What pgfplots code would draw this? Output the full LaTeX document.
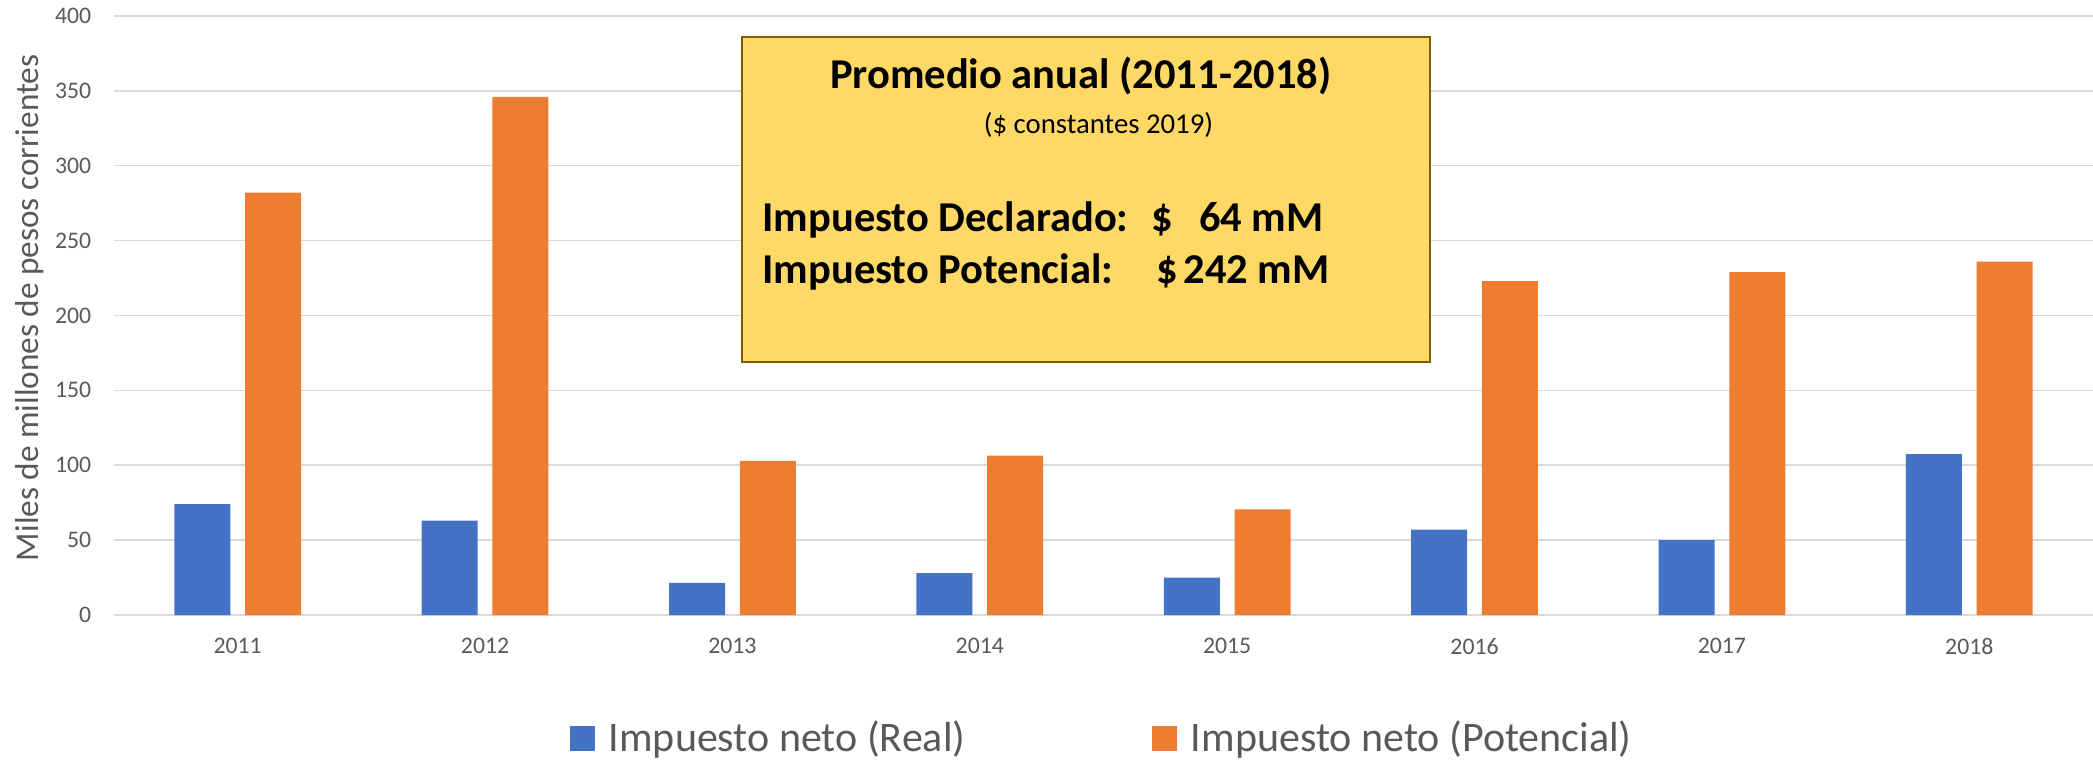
\documentclass[border=0pt]{standalone}
\usepackage{fontspec}
\setmainfont{Carlito}
\usepackage{pgfplots}
\pgfplotsset{compat=1.18}
\definecolor{cblue}{HTML}{4472C4}
\definecolor{corange}{HTML}{ED7D31}
\definecolor{cgrid}{HTML}{D9D9D9}
\definecolor{ctext}{HTML}{595959}
\definecolor{boxfill}{HTML}{FFD966}
\definecolor{boxdraw}{HTML}{7F6000}
\begin{document}
\begin{tikzpicture}
\path[use as bounding box] (0,0) rectangle (837.2pt,305.2pt);
\begin{axis}[
  at={(45.6pt,59.2pt)}, anchor=south west,
  scale only axis, width=791.6pt, height=239.6pt,
  xmin=-0.5, xmax=7.5, ymin=0, ymax=400,
  ytick={0,50,100,150,200,250,300,350,400},
  xtick={0,1,2,3,4,5,6,7},
  xticklabels={2011,2012,2013,2014,2015,2016,2017,2018},
  ymajorgrids, major grid style={cgrid, line width=0.6pt},
  axis line style={draw=none},
  tick style={draw=none},
  /pgf/number format/assume math mode=true,
  ticklabel style={font=\fontsize{9.5}{11}\selectfont, text=ctext},
  yticklabel style={anchor=east, xshift=-5.6pt},
  xticklabel style={anchor=north, yshift=-5.8pt},
  ylabel={Miles de millones de pesos corrientes},
  ylabel style={at={(axis description cs:-0.0427,0.513)}, anchor=center, font=\fontsize{13.3}{15}\selectfont, text=ctext},
  legend columns=2,
  legend style={at={(axis description cs:0.4998,-0.2055)}, anchor=center, draw=none, fill=none,
    font=\fontsize{16.8}{20}\selectfont, text=ctext,
    /tikz/every even column/.append style={column sep=72.5pt}},
  legend image code/.code={\fill[#1,draw=none] (0pt,-5pt) rectangle (10pt,5pt); \path (13.7pt,0pt);},
]
\addplot[ybar, bar width=0.226, bar shift=-0.143, fill=cblue, draw=none]
  coordinates {(0,74) (1,63) (2,21.5) (3,28) (4,25) (5,57) (6,50) (7,107.5)};
\addplot[ybar, bar width=0.226, bar shift=0.143, fill=corange, draw=none]
  coordinates {(0,282) (1,346) (2,103) (3,106.5) (4,70.5) (5,223) (6,229) (7,236)};
\legend{Impuesto neto (Real), Impuesto neto (Potencial)}
\end{axis}
\draw[fill=boxfill, draw=boxdraw, line width=1pt] (296.8pt,160.4pt) rectangle (572pt,290.4pt);
\node[anchor=base, inner sep=0pt] at (432.3pt,269.7pt) {\fontsize{17}{20}\selectfont\bfseries Promedio anual (2011-2018)};
\node[anchor=base, inner sep=0pt] at (439.4pt,251.9pt) {\fontsize{11.5}{13}\selectfont (\$ constantes 2019)};
\node[anchor=base west, inner sep=0pt] at (304.8pt,212.5pt) {\fontsize{17}{20}\selectfont\bfseries Impuesto Declarado:};
\node[anchor=base west, inner sep=0pt] at (460.4pt,212.5pt) {\fontsize{17}{20}\selectfont\bfseries \$};
\node[anchor=base east, inner sep=0pt] at (529.6pt,212.5pt) {\fontsize{17}{20}\selectfont\bfseries 64 mM};
\node[anchor=base west, inner sep=0pt] at (304.8pt,191.7pt) {\fontsize{17}{20}\selectfont\bfseries Impuesto Potencial:};
\node[anchor=base west, inner sep=0pt] at (462.2pt,191.7pt) {\fontsize{17}{20}\selectfont\bfseries \$};
\node[anchor=base east, inner sep=0pt] at (532pt,191.7pt) {\fontsize{17}{20}\selectfont\bfseries 242 mM};
\end{tikzpicture}
\end{document}
